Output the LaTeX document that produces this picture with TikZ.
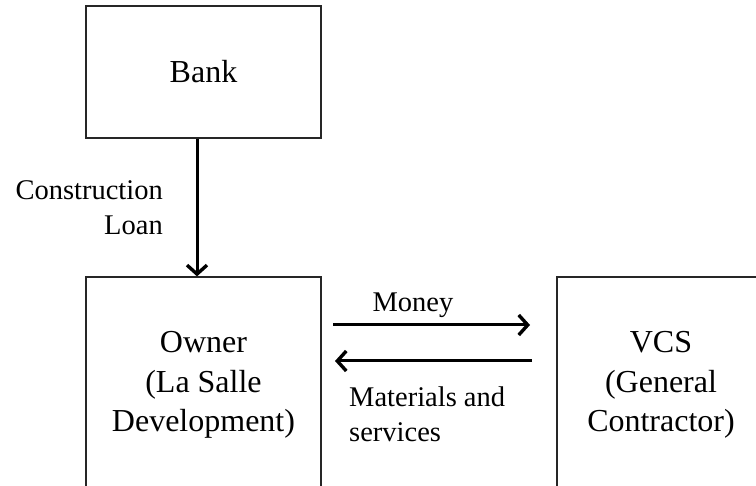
\documentclass[tikz,border=0pt]{standalone}
\usepackage{fontspec}
\setmainfont{Liberation Serif}
\usetikzlibrary{arrows.meta}
\begin{document}
\begin{tikzpicture}[x=1pt,y=-1pt,
  boxstyle/.style={draw=black!85, line width=1.2pt, align=center, inner sep=0pt,
    font=\fontsize{32}{39.5}\selectfont},
  flow/.style={line width=3pt, -{Straight Barb[length=9pt,width=20pt,line width=3.4pt]}},
  lbl/.style={inner sep=0pt, font=\fontsize{28.5}{35}\selectfont}]
\useasboundingbox (0,0) rectangle (756,486);
\clip (0,0) rectangle (756,486);
\node[boxstyle, minimum width=235pt, minimum height=132pt] (bank) at (203.5,72) {Bank};
\node[boxstyle, minimum width=235pt, minimum height=216pt] (owner) at (203.5,385) {Owner\\(La Salle\\Development)};
\node[boxstyle, minimum width=208pt, minimum height=216pt] (vcs) at (661,385) {VCS\\(General\\Contractor)};
\coordinate (ax) at (197,0);
\coordinate (mA) at (333,325);
\coordinate (mB) at (530,325);
\coordinate (sA) at (532,361);
\coordinate (sB) at (335,361);
\draw[flow] (bank.south -| ax) -- (owner.north -| ax);
\draw[flow] (mA) -- (mB);
\draw[flow] (sA) -- (sB);
\node[lbl, anchor=base] (money) at (413,312) {Money};
\node[lbl, anchor=base east, align=right] (loan) at (163,235) {Construction\\Loan};
\node[lbl, anchor=base west, align=left] (mat) at (349,442) {Materials and\\services};
\end{tikzpicture}
\end{document}
